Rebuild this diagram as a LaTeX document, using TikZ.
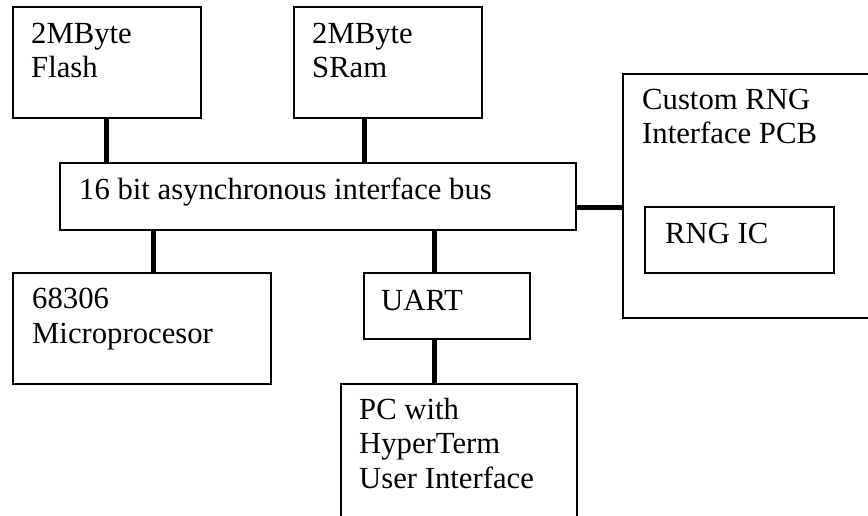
\documentclass[tikz,border=0pt]{standalone}
\usepackage{fontspec}
\setmainfont{Liberation Serif}
\begin{document}
\begin{tikzpicture}[x=1pt,y=-1pt,
  box/.style={draw, line width=1.8pt, anchor=north west, inner sep=0pt},
  link/.style={line width=5pt},
  lbl/.style={font=\fontsize{30.7}{34.2}\selectfont, align=left, anchor=base west, inner sep=0pt}]
\useasboundingbox (0,0) rectangle (868,515);
\clip (0,0) rectangle (868,515);
% boxes
\node[box, minimum width=188pt, minimum height=111pt] (flash) at (12,6) {};
\node[box, minimum width=188pt, minimum height=111pt] (sram) at (293,6) {};
\node[box, minimum width=516pt, minimum height=67pt] (bus) at (59,162) {};
\node[box, minimum width=270pt, minimum height=244pt] (pcb) at (622,73) {};
\node[box, minimum width=189pt, minimum height=66pt] (rngic) at (644,206) {};
\node[box, minimum width=258pt, minimum height=111pt] (micro) at (12,272) {};
\node[box, minimum width=166pt, minimum height=66pt] (uart) at (363,272) {};
\node[box, minimum width=236pt, minimum height=160pt] (pc) at (340,383) {};
% labels (anchored at the baseline of the last line)
\node[lbl] (tflash) at (31,77.5) {2MByte\\Flash};
\node[lbl] (tsram) at (312,77.5) {2MByte\\SRam};
\node[lbl] (tbus) at (79,199) {16 bit asynchronous interface bus};
\node[lbl] (tpcb) at (642,143.5) {Custom RNG\\Interface PCB};
\node[lbl] (trng) at (665,243) {RNG IC};
\node[lbl] (tmicro) at (32,343) {68306\\Microprocesor};
\node[lbl] (tuart) at (381,310) {UART};
\node[lbl] (tpc) at (359,488) {PC with\\HyperTerm\\User Interface};
% connectors
\draw[link] (flash.south) -- (flash.south |- bus.north);
\draw[link] ([xshift=-23pt]sram.south) -- ([xshift=-23pt]sram.south |- bus.north);
\draw[link] ([xshift=12pt]micro.north) -- ([xshift=12pt]micro.north |- bus.south);
\draw[link] ([xshift=-12pt]uart.north) -- ([xshift=-12pt]uart.north |- bus.south);
\draw[link] ([xshift=-12pt]uart.south) -- ([xshift=-12pt]uart.south |- pc.north);
\draw[link] ([yshift=-11.5pt]bus.east) -- ([yshift=-11.5pt]bus.east -| pcb.west);
\end{tikzpicture}
\end{document}
